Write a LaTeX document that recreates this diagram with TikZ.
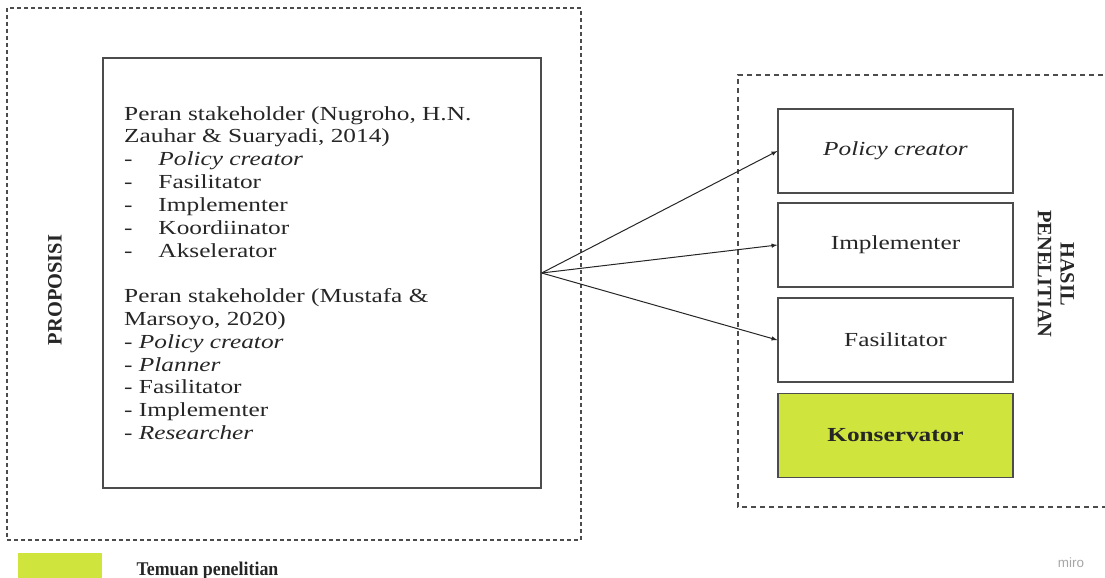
\documentclass[tikz,border=0pt]{standalone}
\usepackage{fontspec}
\usepackage{graphicx}
\setmainfont{Liberation Serif}
\newfontfamily\mirofont{Liberation Sans}

\definecolor{temuan}{RGB}{207,229,62}
\definecolor{ink}{RGB}{38,38,38}
\newcommand{\wide}[1]{\scalebox{1.27}[1]{#1}}
\newcommand{\dashitem}[1]{\makebox[27bp][l]{-}#1}

\tikzset{
  outerframe/.style={draw=black!70, line width=1.2bp, dash pattern=on 4bp off 3bp},
  innerframe/.style={draw=black!70, line width=1.1bp, dash pattern=on 5bp off 4bp},
  rolebox/.style={draw=black!70, line width=1.3bp, minimum width=235bp,
    minimum height=84bp, inner sep=0pt},
  sidelabel/.style={font=\fontsize{20.5}{23}\selectfont\bfseries, align=center}
}

\begin{document}
\begin{tikzpicture}[x=1bp, y=-1bp, >=latex, every node/.style={text=ink},
  font=\fontsize{20}{22.9}\selectfont]

\useasboundingbox (0,0) rectangle (1105,578);

\draw[outerframe] (7,8) rectangle (581,540);
\draw[innerframe] (1112,75) -- (738,75) -- (738,507) -- (1112,507);

\node[rolebox, minimum width=438bp, minimum height=430bp] (prop) at (322,273) {};
\node[anchor=north west, inner sep=0pt] (proptext) at (124,104) {\wide{%
  \begin{tabular}{@{}l@{}}
  Peran stakeholder (Nugroho, H.N.\\
  Zauhar \& Suaryadi, 2014)\\
  \dashitem{\textit{Policy creator}}\\
  \dashitem{Fasilitator}\\
  \dashitem{Implementer}\\
  \dashitem{Koordiinator}\\
  \dashitem{Akselerator}\\
  \\
  Peran stakeholder (Mustafa \&\\
  Marsoyo, 2020)\\
  \textit{- Policy creator}\\
  \textit{- Planner}\\
  - Fasilitator\\
  - Implementer\\
  \textit{- Researcher}
  \end{tabular}}};

\node[sidelabel, rotate=90] (proplabel) at (55,290) {PROPOSISI};

\node[rolebox] (pc)   at (895.5,151)   {\wide{\textit{Policy creator}}};
\node[rolebox] (impl) at (895.5,245)   {\wide{Implementer}};
\node[rolebox] (fas)  at (895.5,340)   {\wide{Fasilitator}};
\node[rolebox, fill=temuan] (kons) at (895.5,435.5) {\wide{\textbf{Konservator}}};

\node[sidelabel, rotate=-90] (hasil) at (1056,274) {HASIL\\PENELITIAN};

\draw[->, line width=1bp, black!85] (prop.east) -- (pc.west);
\draw[->, line width=1bp, black!85] (prop.east) -- (impl.west);
\draw[->, line width=1bp, black!85] (prop.east) -- (fas.west);

\node[fill=temuan, minimum width=84bp, minimum height=30bp, inner sep=0pt] (key) at (60,568) {};
\node[anchor=base west, font=\fontsize{19.5}{22}\selectfont\bfseries] (keytext) at (133,575)
  {\scalebox{0.92}[1]{Temuan penelitian}};

\node[text=black!35, font=\mirofont\fontsize{13.5}{16}\selectfont] (miro) at (1071,563) {miro};

\end{tikzpicture}
\end{document}
